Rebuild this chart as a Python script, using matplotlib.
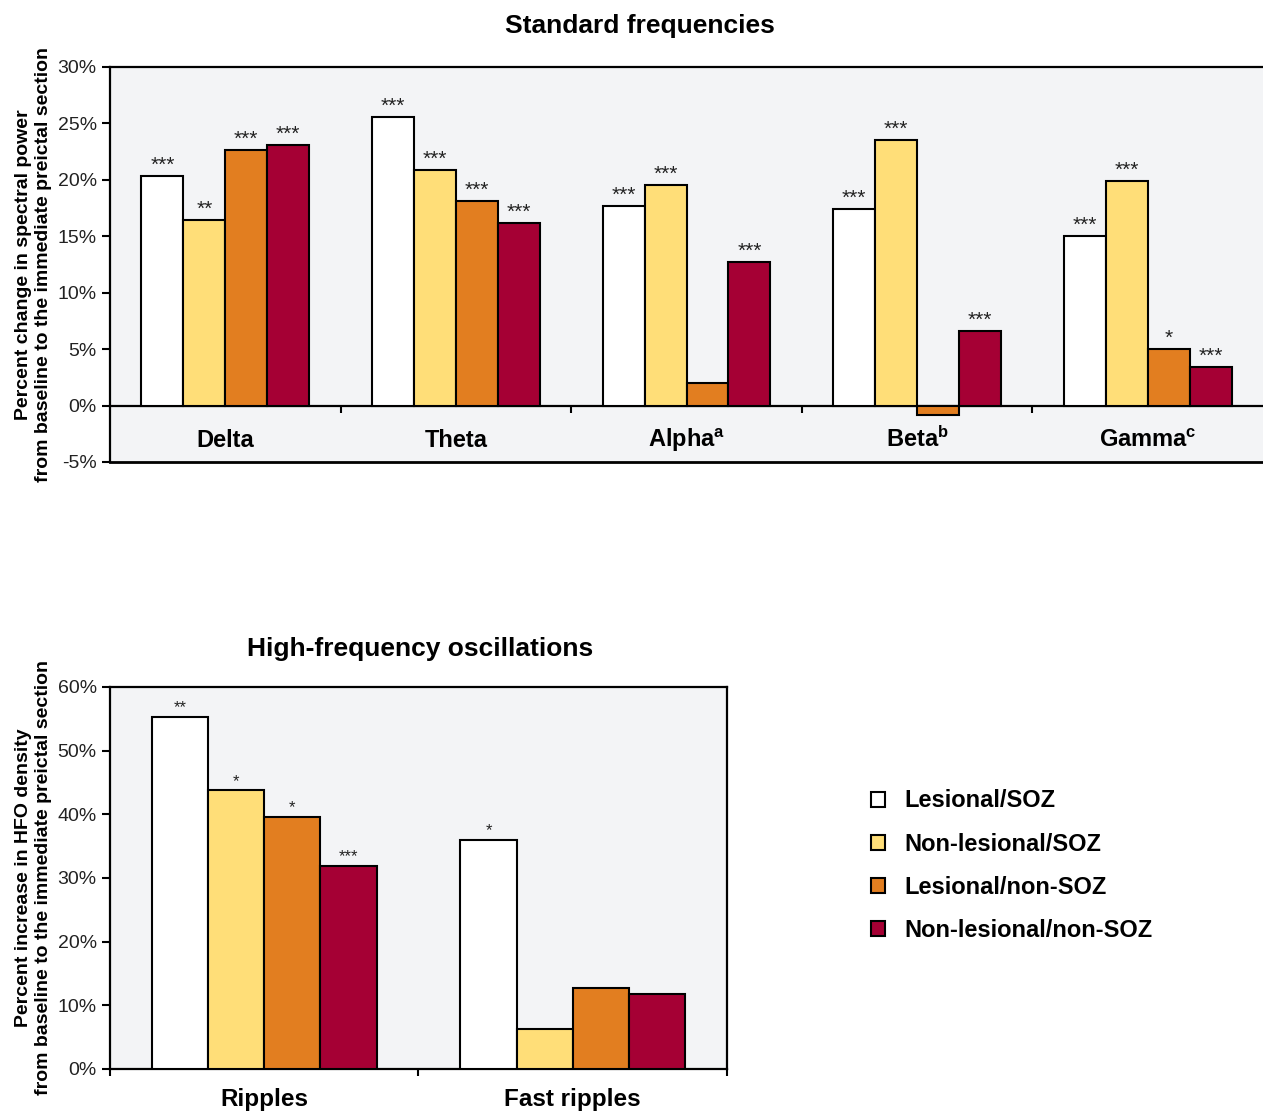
import numpy as np
import matplotlib
matplotlib.use('Agg')
import matplotlib.pyplot as plt
from matplotlib.patches import Patch

plt.rcParams['font.family'] = ['Liberation Sans Narrow', 'Liberation Sans', 'DejaVu Sans']
plt.rcParams['mathtext.fontset'] = 'custom'
plt.rcParams['mathtext.rm'] = 'Liberation Sans:bold'
plt.rcParams['mathtext.it'] = 'Liberation Sans:bold'
plt.rcParams['mathtext.bf'] = 'Liberation Sans:bold'

# data
groups = ['Lesional/SOZ', 'Non-lesional/SOZ', 'Lesional/non-SOZ', 'Non-lesional/non-SOZ']
colors = ['#FFFFFF', '#FFDE78', '#E27E20', '#A50034']

bands = ['Delta', 'Theta', r'Alpha$^{\mathrm{a}}$', r'Beta$^{\mathrm{b}}$', r'Gamma$^{\mathrm{c}}$']
lesional_soz = [20.3, 25.6, 17.7, 17.4, 15.0]
nonlesional_soz = [16.4, 20.9, 19.5, 23.5, 19.9]
lesional_nonsoz = [22.6, 18.1, 2.0, -0.8, 5.0]
nonlesional_nonsoz = [23.1, 16.2, 12.7, 6.6, 3.4]
sig_std = [['***', '***', '***', '***', '***'],
           ['**', '***', '***', '***', '***'],
           ['***', '***', '', '', '*'],
           ['***', '***', '***', '***', '***']]

hfo = ['Ripples', 'Fast ripples']
hfo_lesional_soz = [55.3, 36.0]
hfo_nonlesional_soz = [43.8, 6.3]
hfo_lesional_nonsoz = [39.6, 12.7]
hfo_nonlesional_nonsoz = [31.9, 11.8]
sig_hfo = [['**', '*'], ['*', ''], ['*', ''], ['***', '']]

bg = '#F3F4F6'
txt = '#222222'
w = 0.182
fig = plt.figure(figsize=(12.63, 11.15), dpi=100)

# ---------- Standard frequencies ----------
ax1 = fig.add_axes([0.0871, 0.5857, 0.9129, 0.3543])
ax1.set_facecolor(bg)
std_series = [lesional_soz, nonlesional_soz, lesional_nonsoz, nonlesional_nonsoz]
x = np.arange(len(bands))
for i, vals in enumerate(std_series):
    xs = x + (i - 1.5) * w
    ax1.bar(xs, vals, w, color=colors[i], edgecolor='black', linewidth=1.5, zorder=3)
    for xi, v, s in zip(xs, vals, sig_std[i]):
        if s:
            ax1.text(xi, v + 0.1, s, ha='center', va='bottom', fontsize=15,
                     family=['Liberation Sans', 'DejaVu Sans'], color=txt)
ax1.set_xlim(-0.5, len(bands) - 0.5)
ax1.set_ylim(-5, 30)
ax1.set_yticks(np.arange(-5, 31, 5))
ax1.set_yticklabels([f'{v}%' for v in range(-5, 31, 5)], fontsize=14, color=txt)
ax1.spines['bottom'].set_position(('data', 0))
ax1.spines['right'].set_visible(False)
for s in ['bottom', 'top', 'left']:
    ax1.spines[s].set_linewidth(1.6)
ax1.axhline(-5, color='black', linewidth=2, clip_on=False, zorder=5)
ax1.set_xticks([])
ax1.set_xticks(np.arange(0.5, len(bands) - 0.5), minor=True)
ax1.tick_params(axis='x', which='minor', length=5, width=1.5, direction='out')
ax1.tick_params(axis='y', length=6, width=1.5, direction='out')
for xi, b in zip(x, bands):
    ax1.text(xi, -3.7, b, ha='center', va='baseline', fontsize=17, fontweight='bold')
ax1.set_ylabel('Percent change in spectral power\nfrom baseline to the immediate preictal section',
               fontsize=14, fontweight='bold', labelpad=4, linespacing=1.25)
fig.text(0.507, 0.977, 'Standard frequencies', ha='center', va='center',
         fontsize=19, fontweight='bold')

# ---------- High-frequency oscillations ----------
ax2 = fig.add_axes([0.0871, 0.0413, 0.4885, 0.3426])
ax2.set_facecolor(bg)
hfo_series = [hfo_lesional_soz, hfo_nonlesional_soz, hfo_lesional_nonsoz, hfo_nonlesional_nonsoz]
x2 = np.arange(len(hfo))
for i, vals in enumerate(hfo_series):
    xs = x2 + (i - 1.5) * w
    ax2.bar(xs, vals, w, color=colors[i], edgecolor='black', linewidth=1.5, zorder=3)
    for xi, v, s in zip(xs, vals, sig_hfo[i]):
        if s:
            ax2.text(xi, v + 0.2, s, ha='center', va='bottom', fontsize=12,
                     family=['Liberation Sans', 'DejaVu Sans'], color=txt)
ax2.set_xlim(-0.5, len(hfo) - 0.5)
ax2.set_ylim(0, 60)
ax2.set_yticks(np.arange(0, 61, 10))
ax2.set_yticklabels([f'{v}%' for v in range(0, 61, 10)], fontsize=14, color=txt)
for s in ax2.spines.values():
    s.set_linewidth(1.6)
ax2.set_xticks(x2)
ax2.set_xticklabels(hfo, fontsize=17.5, fontweight='bold')
ax2.tick_params(axis='x', which='major', length=0, pad=14)
ax2.set_xticks(np.arange(-0.5, len(hfo)), minor=True)
ax2.tick_params(axis='x', which='minor', length=5, width=1.5, direction='out')
ax2.tick_params(axis='y', length=6, width=1.5, direction='out')
ax2.set_ylabel('Percent increase in HFO density\nfrom baseline to the immediate preictal section',
               fontsize=14, fontweight='bold', labelpad=4, linespacing=1.25)
fig.text(0.333, 0.418, 'High-frequency oscillations', ha='center', va='center',
         fontsize=19, fontweight='bold')

# legend
handles = [Patch(facecolor=c, edgecolor='black', linewidth=1.5) for c in colors]
leg = fig.legend(handles, groups, loc='upper left', bbox_to_anchor=(0.673, 0.311),
                 frameon=False, prop={'size': 17, 'weight': 'bold'},
                 handlelength=0.6, handleheight=0.6, handletextpad=0.8, labelspacing=0.85)

fig.savefig('out.png', dpi=100)
